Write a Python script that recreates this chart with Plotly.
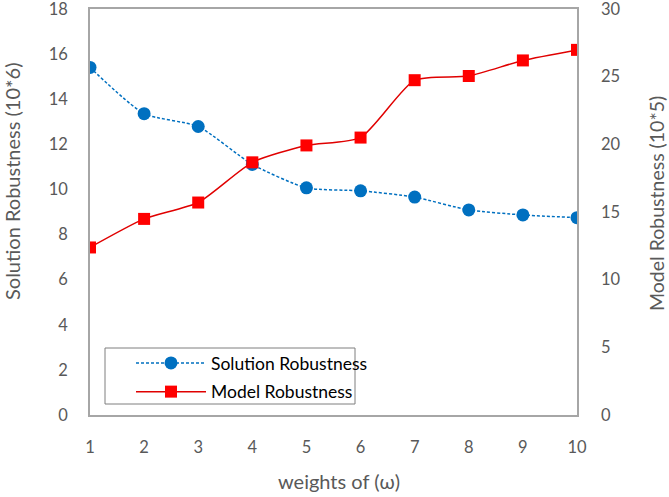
import plotly.graph_objects as go

weights = [1, 2, 3, 4, 5, 6, 7, 8, 9, 10]
solution_robustness = [15.41, 13.36, 12.79, 11.11, 10.07, 9.94, 9.66, 9.09, 8.87, 8.75]
model_robustness = [12.38, 14.49, 15.7, 18.67, 19.92, 20.5, 24.74, 25.05, 26.2, 26.98]
left_ticks = [0, 2, 4, 6, 8, 10, 12, 14, 16, 18]
right_ticks = [0, 5, 10, 15, 20, 25, 30]

font_family = "Lato, 'Open Sans', sans-serif"
gray = "#595959"
axis_gray = "#A6A6A6"

fig = go.Figure()
fig.add_trace(go.Scatter(
    x=weights, y=solution_robustness, name="Solution Robustness",
    mode="lines+markers", legendgroup="a",
    line=dict(color="#0070C0", width=1.5, dash="3px,2px", shape="spline", smoothing=0.6),
    marker=dict(symbol="circle", size=13, color="#0070C0"),
    yaxis="y",
))
fig.add_trace(go.Scatter(
    x=weights, y=model_robustness, name="Model Robustness",
    mode="lines+markers", legendgroup="b",
    line=dict(color="#E00000", width=1.5, shape="spline", smoothing=0.6),
    marker=dict(symbol="square", size=12, color="#FF0000"),
    yaxis="y2",
))

W, H = 669, 497
L, R, T, B = 90, 92, 9, 82
pw, ph = W - L - R, H - T - B


def px_to_paper_x(px):
    return (px - L) / pw


def px_to_paper_y(py):
    return (H - B - py) / ph


fig.update_layout(
    width=W, height=H,
    margin=dict(l=L, r=R, t=T, b=B, autoexpand=False),
    paper_bgcolor="white", plot_bgcolor="white",
    font=dict(family=font_family, color=gray, size=16),
    showlegend=True,
    legend=dict(
        x=px_to_paper_x(131), y=px_to_paper_y(345), xanchor="left", yanchor="top",
        borderwidth=0, bgcolor="rgba(0,0,0,0)",
        font=dict(size=17.5, color="#000000"),
        itemwidth=70,
        tracegroupgap=3,
        traceorder="grouped",
    ),
    xaxis=dict(
        range=[1, 10], tickmode="array", tickvals=weights,
        ticktext=[str(w) for w in weights],
        showgrid=False, zeroline=False, automargin=False,
        showline=True, linecolor=axis_gray, linewidth=1.5, mirror=True,
        ticks="", ticklabelstandoff=16, ticklabeloverflow="allow",
        tickfont=dict(size=16.5, color=gray),
    ),
    yaxis=dict(
        range=[0, 18], tickmode="array", tickvals=left_ticks,
        showgrid=False, zeroline=False, automargin=False,
        showline=True, linecolor=axis_gray, linewidth=1.5,
        ticks="", ticklabelstandoff=17, ticklabeloverflow="allow",
        tickfont=dict(size=16.5, color=gray),
    ),
    yaxis2=dict(
        range=[0, 30], tickmode="array", tickvals=right_ticks,
        overlaying="y", side="right",
        showgrid=False, zeroline=False, automargin=False,
        showline=True, linecolor=axis_gray, linewidth=1.5,
        ticks="", ticklabelstandoff=19, ticklabeloverflow="allow",
        tickfont=dict(size=16.5, color=gray),
    ),
    shapes=[dict(
        type="rect", xref="paper", yref="paper",
        x0=px_to_paper_x(105), x1=px_to_paper_x(355),
        y0=px_to_paper_y(404), y1=px_to_paper_y(348),
        line=dict(color="#7F7F7F", width=1), fillcolor="rgba(0,0,0,0)",
        layer="below",
    )],
    annotations=[
        dict(text="Solution Robustness (10*6)", xref="paper", yref="paper",
             x=px_to_paper_x(12), y=px_to_paper_y(182), textangle=-90,
             showarrow=False, xanchor="center", yanchor="middle",
             font=dict(size=20, color=gray)),
        dict(text="Model Robustness (10*5)", xref="paper", yref="paper",
             x=px_to_paper_x(656), y=px_to_paper_y(204), textangle=-90,
             showarrow=False, xanchor="center", yanchor="middle",
             font=dict(size=19.5, color=gray)),
        dict(text="weights of (ω)", xref="paper", yref="paper",
             x=px_to_paper_x(339), y=px_to_paper_y(481),
             showarrow=False, xanchor="center", yanchor="middle",
             font=dict(size=20, color=gray)),
    ],
)

fig.write_html("out.html", config={"displayModeBar": False},
               post_script="document.body.style.margin='0';")
